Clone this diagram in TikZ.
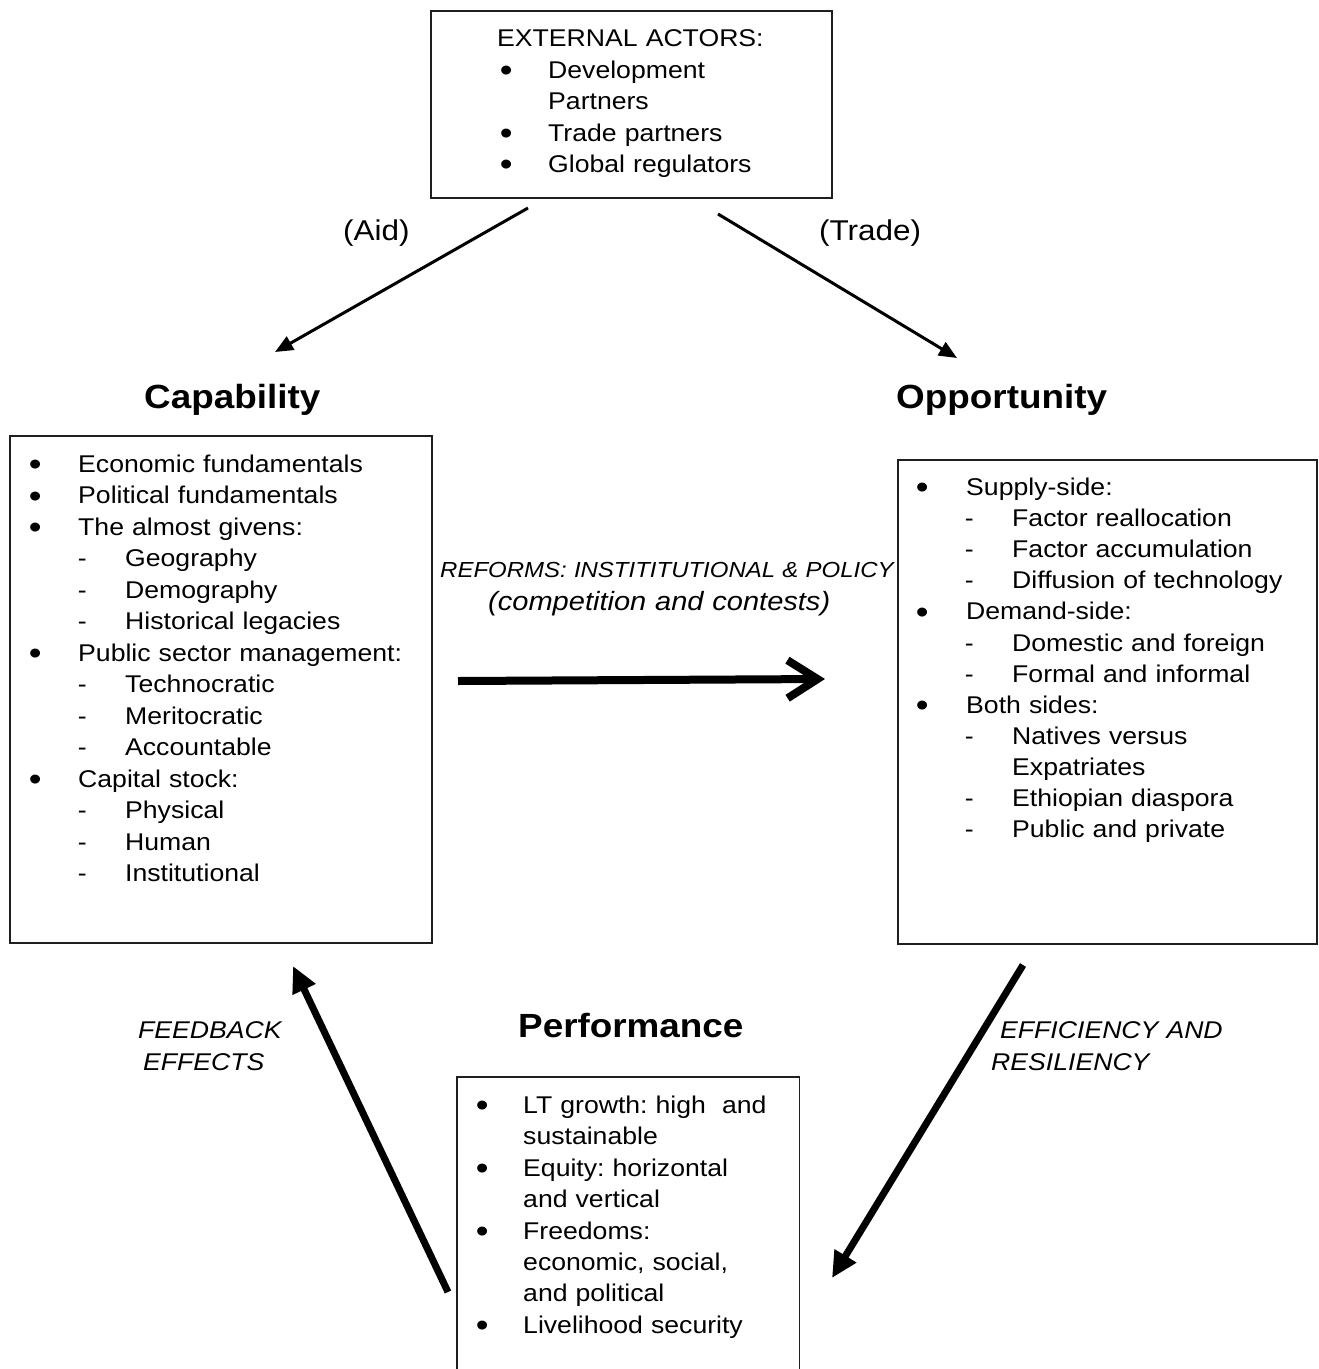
\documentclass[tikz,border=0pt]{standalone}
\usepackage{fontspec}
\setmainfont{Liberation Sans}[FakeStretch=1.1]
\usetikzlibrary{arrows.meta}
\frenchspacing
\newcommand{\bigbul}{\raisebox{-3.2pt}{\fontsize{33}{0}\selectfont\textbullet}}
\newcommand{\bul}[1][43pt]{\makebox[0pt]{\bigbul}\hspace*{#1}}
\newcommand{\dsh}{\hspace*{47pt}\makebox[0pt]{-}\hspace*{43pt}}
\newcommand{\cnt}[1][43pt]{\hspace*{#1}}
\begin{document}
\begin{tikzpicture}[x=1pt,y=-1pt,
  box/.style={draw=black!88, line width=1.6pt, inner sep=0pt, anchor=north west},
  txt/.style={inner sep=0pt, anchor=base west, align=left, text width=430pt,
    font=\fontsize{24.2}{31.4}\selectfont},
  headlbl/.style={inner sep=0pt, anchor=base west, font=\bfseries\fontsize{33.5}{40}\selectfont},
  lbl/.style={inner sep=0pt, anchor=base west, align=left, text width=520pt},
  thinarrow/.style={line width=3pt, -{Triangle[length=18pt,width=15pt]}},
  thickarrow/.style={line width=7pt, -{Triangle[length=26pt,width=24pt]}},
  reformarrow/.style={line width=8pt, -{Straight Barb[length=30pt,width=38pt]}}]
\useasboundingbox (0,0) rectangle (1319,1369);

% boxes
\node[box, minimum width=401pt, minimum height=187pt] (ext) at (430,10) {};
\node[box, minimum width=422pt, minimum height=507pt] (capbox) at (9,435) {};
\node[box, minimum width=419pt, minimum height=484pt] (oppbox) at (897,459) {};
\node[inner sep=0pt, anchor=north west, minimum width=342pt, minimum height=292pt] (perfbox) at (457,1077) {};
\draw[draw=black!88, line width=1.6pt] (perfbox.south west) -- (perfbox.north west) -- (perfbox.north east) -- (perfbox.south east);

% box texts
\node[txt, font=\fontsize{24.2}{31.5}\selectfont] (extT) at (506,46.5) {\hspace*{-9pt}EXTERNAL ACTORS:\\
\bul[42pt]Development\\
\cnt[42pt]Partners\\
\bul[42pt]Trade partners\\
\bul[42pt]Global regulators};

\node[txt, font=\fontsize{24.2}{31.46}\selectfont] (capT) at (35,472.5) {\bul Economic fundamentals\\
\bul Political fundamentals\\
\bul The almost givens:\\
\dsh Geography\\
\dsh Demography\\
\dsh Historical legacies\\
\bul Public sector management:\\
\dsh Technocratic\\
\dsh Meritocratic\\
\dsh Accountable\\
\bul Capital stock:\\
\dsh Physical\\
\dsh Human\\
\dsh Institutional};

\node[txt, font=\fontsize{24.2}{31.1}\selectfont] (oppT) at (922,495.5) {\bul[44pt]Supply-side:\\
\dsh Factor reallocation\\
\dsh Factor accumulation\\
\dsh Diffusion of technology\\
\bul[44pt]Demand-side:\\
\dsh Domestic and foreign\\
\dsh Formal and informal\\
\bul[44pt]Both sides:\\
\dsh Natives versus\\
\cnt[90pt]Expatriates\\
\dsh Ethiopian diaspora\\
\dsh Public and private};

\node[txt, font=\fontsize{24.2}{31.4}\selectfont] (perfT) at (482,1113.5) {\bul[41pt]LT growth: high\ \ and\\
\cnt[41pt]sustainable\\
\bul[41pt]Equity: horizontal\\
\cnt[41pt]and vertical\\
\bul[41pt]Freedoms:\\
\cnt[41pt]economic, social,\\
\cnt[41pt]and political\\
\bul[41pt]Livelihood security};

% headings
\node[headlbl] (caph) at (144,408) {Capability};
\node[headlbl] (opph) at (896,408) {Opportunity};
\node[headlbl] (perfh) at (518,1037) {Performance};

% labels
\node[lbl, font=\fontsize{28.6}{34}\selectfont] (aidl) at (343,240) {(Aid)};
\node[lbl, font=\fontsize{28.6}{34}\selectfont] (tradel) at (819,240) {(Trade)};
\node[lbl, font=\itshape\fontsize{21.8}{26}\selectfont] (refl) at (440,577) {REFORMS: INSTITITUTIONAL \&\ POLICY};
\node[lbl, font=\itshape\fontsize{26.4}{32}\selectfont] (compl) at (488,610) {(competition and contests)};
\node[lbl, font=\itshape\fontsize{24.2}{32}\selectfont] (fbl) at (138,1038) {FEEDBACK\\\hspace*{5pt}EFFECTS};
\node[lbl, font=\itshape\fontsize{24.2}{32}\selectfont] (effl) at (991,1038) {\hspace*{9pt}EFFICIENCY AND\\RESILIENCY};

% arrows
\coordinate (aidS) at (528,208);
\coordinate (aidE) at (275,352);
\coordinate (trS) at (718,214);
\coordinate (trE) at (957,358);
\coordinate (refS) at (458,681);
\coordinate (refE) at (825,679);
\coordinate (effS) at (1023,965);
\coordinate (effE) at (832,1278);
\coordinate (fbS) at (448,1292);
\coordinate (fbE) at (293,966);
\draw[thinarrow] (aidS) -- (aidE);
\draw[thinarrow] (trS) -- (trE);
\draw[reformarrow] (refS) -- (refE);
\draw[thickarrow] (effS) -- (effE);
\draw[thickarrow] (fbS) -- (fbE);
\end{tikzpicture}
\end{document}
